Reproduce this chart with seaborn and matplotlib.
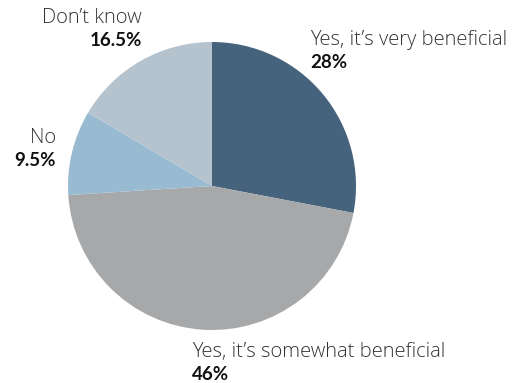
import matplotlib
matplotlib.use("Agg")
import matplotlib.pyplot as plt
import seaborn as sns

categories = ["Yes, it\u2019s very beneficial", "Yes, it\u2019s somewhat beneficial", "No", "Don\u2019t know"]
values = [28, 46, 9.5, 16.5]
pct_labels = ["28%", "46%", "9.5%", "16.5%"]
colors = ["#46637E", "#A7A8AA", "#98BBD1", "#B5C3CF"]

sns.set_theme(style="white")
plt.rcParams['font.family'] = ['Open Sans', 'DejaVu Sans']

W, H = 518, 383
fig = plt.figure(figsize=(W / 100, H / 100), dpi=100)
cx, cy, r = 212, 186, 144
ax = fig.add_axes([(cx - r) / W, (H - cy - r) / H, 2 * r / W, 2 * r / H])
ax.pie(values, colors=sns.color_palette(colors), startangle=90, counterclock=False,
       radius=1, wedgeprops=dict(linewidth=0))
ax.set_xlim(-1, 1)
ax.set_ylim(-1, 1)
ax.set_aspect('equal')
ax.axis('off')

label_pos = [(310, 40, 'left'), (192, 352, 'left'), (56, 138, 'right'), (142, 18, 'right')]
for (x, y, ha), cat, pl in zip(label_pos, categories, pct_labels):
    fig.text(x / W, 1 - y / H, cat, ha=ha, va='center', fontsize=14.5,
             fontweight='light', color='#333333')
    fig.text(x / W, 1 - (y + 22) / H, pl, ha=ha, va='center', fontsize=13.5,
             fontweight='bold', color='#111111', family=['Lato', 'DejaVu Sans'])

fig.savefig("out.png", dpi=100)
